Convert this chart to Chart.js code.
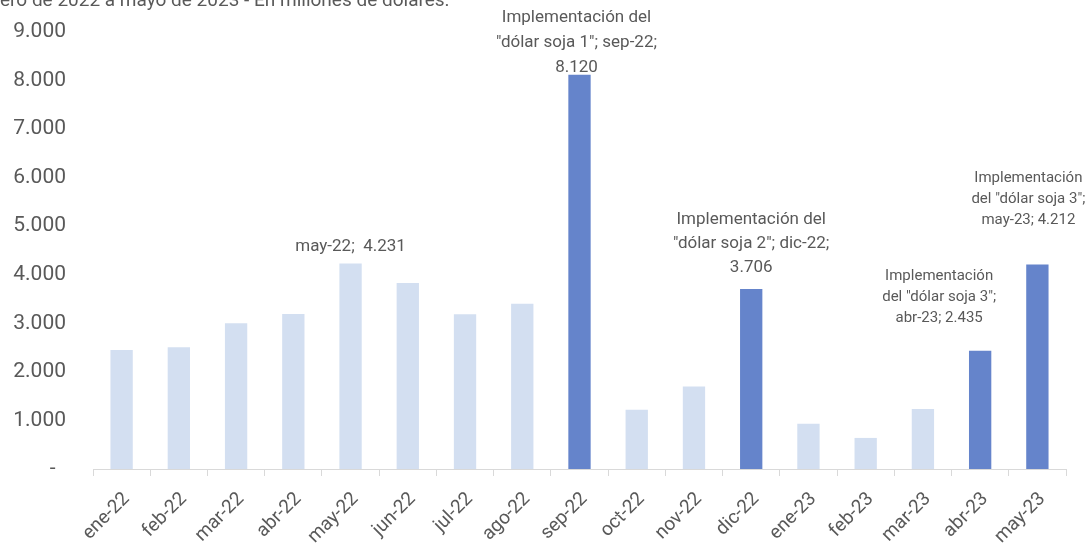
<!DOCTYPE html>
<html lang="es">
<head>
    <meta charset="UTF-8">
    <title>Dólar soja - exportaciones</title>
    <script src="https://cdn.jsdelivr.net/npm/chart.js"></script>
    <style>
        body {
            margin: 0;
            background: #ffffff;
            overflow: hidden;
        }
        #chart {
            display: block;
        }
    </style>
</head>
<body>
    <canvas id="chart" width="1089" height="547"></canvas>

    <script>
        // datos (millones de dólares)
        const meses = ['ene-22', 'feb-22', 'mar-22', 'abr-22', 'may-22', 'jun-22', 'jul-22', 'ago-22', 'sep-22',
            'oct-22', 'nov-22', 'dic-22', 'ene-23', 'feb-23', 'mar-23', 'abr-23', 'may-23'];
        const valores = [2450, 2510, 3000, 3190, 4231, 3830, 3185, 3405, 8120,
            1220, 1700, 3706, 930, 640, 1235, 2435, 4212];
        // meses con "dólar soja"
        const destacados = [8, 11, 15, 16];
        const yTicks = [0, 1000, 2000, 3000, 4000, 5000, 6000, 7000, 8000, 9000];
        const titulo = 'Enero de 2022 a mayo de 2023 - En millones de dólares.';

        const etiquetaIdx = [4, 8, 11, 15, 16];
        const etiquetaTextos = [
            ['may-22;  4.231'],
            ['Implementación del', '"dólar soja 1"; sep-22;', '8.120'],
            ['Implementación del', '"dólar soja 2"; dic-22;', '3.706'],
            ['Implementación', 'del "dólar soja 3";', 'abr-23; 2.435'],
            ['Implementación', 'del "dólar soja 3";', 'may-23; 4.212']
        ];

        const gris = '#595959';
        const FONT = 'Roboto, "Noto Sans", sans-serif';

        // estilo de cada etiqueta: desplazamiento x, separación sobre la barra, alto de línea, tamaño
        const etiquetaEstilo = [
            { dx: 0, gap: 13, lh: 24, size: 17 },
            { dx: -3, gap: 3, lh: 25, size: 17 },
            { dx: 0, gap: 17, lh: 24, size: 17 },
            { dx: -41, gap: 29, lh: 21, size: 15 },
            { dx: -9, gap: 40, lh: 21, size: 15 }
        ];

        const colores = valores.map((v, i) => destacados.includes(i) ? '#6584cb' : '#d3dff1');

        const fmt = v => String(v).replace(/\B(?=(\d{3})+(?!\d))/g, '.');

        const etiquetasPlugin = {
            id: 'etiquetas',
            afterDatasetsDraw(chart) {
                const ctx = chart.ctx;
                const meta = chart.getDatasetMeta(0);
                ctx.save();
                ctx.fillStyle = gris;
                ctx.textAlign = 'center';
                ctx.textBaseline = 'alphabetic';
                etiquetaIdx.forEach((idx, k) => {
                    const bar = meta.data[idx];
                    const st = etiquetaEstilo[k];
                    const lines = etiquetaTextos[k];
                    ctx.font = st.size + 'px ' + FONT;
                    const last = bar.y - st.gap;
                    lines.forEach((t, j) => {
                        ctx.fillText(t, bar.x + st.dx, last - (lines.length - 1 - j) * st.lh);
                    });
                });
                // título, recortado arriba y a la izquierda
                ctx.font = '19px ' + FONT;
                ctx.textAlign = 'left';
                ctx.fillText(titulo, -ctx.measureText('En').width, 6);
                ctx.restore();
            }
        };

        new Chart(document.getElementById('chart'), {
            type: 'bar',
            data: {
                labels: meses,
                datasets: [{
                    data: valores,
                    backgroundColor: colores,
                    borderWidth: 0,
                    categoryPercentage: 1,
                    barPercentage: 0.39
                }]
            },
            options: {
                responsive: false,
                animation: false,
                layout: {
                    padding: { top: 32, right: 23, left: 0, bottom: 0 }
                },
                plugins: {
                    legend: { display: false },
                    tooltip: { enabled: false }
                },
                scales: {
                    x: {
                        afterFit: s => { s.height = 78; },
                        grid: {
                            display: true,
                            drawOnChartArea: false,
                            drawTicks: true,
                            tickLength: 7,
                            color: '#d9d9d9',
                            offset: true
                        },
                        border: { color: '#d9d9d9', width: 1 },
                        ticks: {
                            color: gris,
                            font: { family: FONT, size: 19 },
                            maxRotation: 45,
                            minRotation: 45,
                            padding: 12,
                            labelOffset: 5,
                            autoSkip: false
                        }
                    },
                    y: {
                        min: 0,
                        max: 9000,
                        afterFit: s => {
                            s.width = 93;
                            s.paddingTop = 0;
                            s.paddingBottom = 0;
                        },
                        afterBuildTicks: s => { s.ticks = yTicks.map(v => ({ value: v })); },
                        grid: { display: false, drawTicks: false },
                        border: { display: false },
                        ticks: {
                            color: gris,
                            font: { family: FONT, size: 21 },
                            padding: 27,
                            callback: v => v === 0 ? '-  ' : fmt(v)
                        }
                    }
                }
            },
            plugins: [etiquetasPlugin]
        });
    </script>
</body>
</html>
